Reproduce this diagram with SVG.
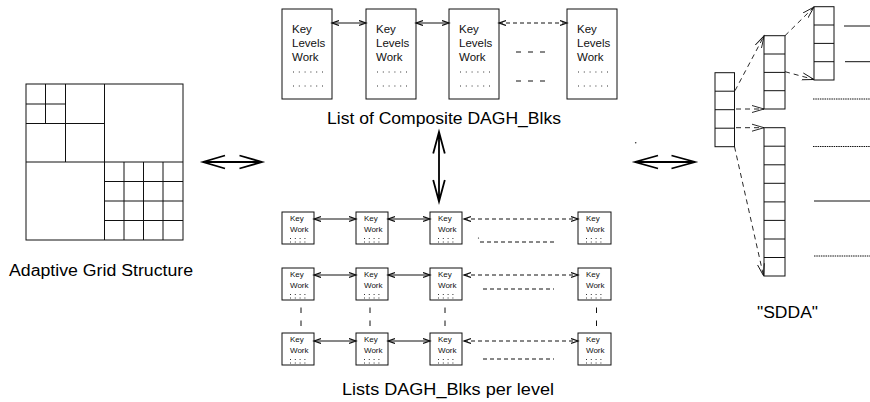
<svg xmlns="http://www.w3.org/2000/svg" width="870" height="402" viewBox="0 0 870 402">
  <style>
    .ln { stroke: #111; stroke-width: 1; fill: none; }
    .box { stroke: #111; stroke-width: 1; fill: #fff; }
    .dots { stroke: #333; stroke-width: 1; stroke-dasharray: 1 4.8; fill: none; }
    .sdots { stroke: #333; stroke-width: 1; stroke-dasharray: 1 3.8; fill: none; }
    .dash { stroke: #111; stroke-width: 1; stroke-dasharray: 4 3; fill: none; }
    .big { stroke: #000; stroke-width: 1.8; fill: none; }
    .lbl { font-family: "Liberation Sans", Arial, sans-serif; font-size: 16px; fill: #000; }
    .t1 { font-family: "Liberation Sans", Arial, sans-serif; font-size: 11.5px; fill: #111; }
    .t2 { font-family: "Liberation Sans", Arial, sans-serif; font-size: 8px; fill: #111; }
  </style>
  <defs>
    <marker id="ah" markerWidth="10" markerHeight="8" refX="7" refY="3" orient="auto-start-reverse" markerUnits="userSpaceOnUse">
      <path d="M0,0.5 L7,3 L0,5.5" fill="none" stroke="#111" stroke-width="1.2"/>
    </marker>
    <marker id="av" markerWidth="14" markerHeight="10" refX="12" refY="5" orient="auto" markerUnits="userSpaceOnUse">
      <path d="M0,1.5 L12,5 L0,8.5" fill="none" stroke="#111" stroke-width="0.9"/>
    </marker>
  </defs>

  <!-- adaptive grid -->
  <g id="grid">
    <rect class="ln" x="26" y="84" width="157" height="156"/>
    <path class="ln" d="M104.5,84 V240 M26,162 H183
      M65.5,84 V162 M26,123.5 H104.5
      M45.5,84 V123.5 M26,104 H65.5
      M124,162 V240 M143.5,162 V240 M163,162 V240
      M104.5,181.5 H183 M104.5,201 H183 M104.5,220.5 H183"/>
    <text class="lbl" x="9" y="276" textLength="184" lengthAdjust="spacingAndGlyphs">Adaptive Grid Structure</text>
  </g>

  <!-- composite block list -->
  <g id="blk1">
    <rect class="box" x="282" y="9" width="50" height="90"/>
    <text class="t1" x="292" y="33">Key</text>
    <text class="t1" x="292" y="47">Levels</text>
    <text class="t1" x="292" y="61">Work</text>
    <path class="dots" d="M293,72 H323 M293,86 H323"/>
  </g>
  <g id="blk2">
    <rect class="box" x="366" y="9" width="50" height="90"/>
    <text class="t1" x="376" y="33">Key</text>
    <text class="t1" x="376" y="47">Levels</text>
    <text class="t1" x="376" y="61">Work</text>
    <path class="dots" d="M377,72 H407 M377,86 H407"/>
  </g>
  <g id="blk3">
    <rect class="box" x="449" y="9" width="50" height="90"/>
    <text class="t1" x="459" y="33">Key</text>
    <text class="t1" x="459" y="47">Levels</text>
    <text class="t1" x="459" y="61">Work</text>
    <path class="dots" d="M460,72 H490 M460,86 H490"/>
  </g>
  <g id="blk4">
    <rect class="box" x="567" y="9" width="50" height="90"/>
    <text class="t1" x="577" y="33">Key</text>
    <text class="t1" x="577" y="47">Levels</text>
    <text class="t1" x="577" y="61">Work</text>
    <path class="dots" d="M578,72 H608 M578,86 H608"/>
  </g>
  <text class="lbl" x="327" y="124" textLength="234" lengthAdjust="spacingAndGlyphs">List of Composite DAGH_Blks</text>

  <!-- per-level block lists -->
  <g id="lvl1">
    <g id="l1b1"><rect class="box" x="282" y="212" width="32" height="32"/><text class="t2" x="290" y="221">Key</text><text class="t2" x="290" y="232">Work</text><path class="sdots" d="M290,238.5 H307 M290,242 H307"/></g>
    <g id="l1b2"><rect class="box" x="356" y="212" width="32" height="32"/><text class="t2" x="364" y="221">Key</text><text class="t2" x="364" y="232">Work</text><path class="sdots" d="M364,238.5 H381 M364,242 H381"/></g>
    <g id="l1b3"><rect class="box" x="430" y="212" width="32" height="32"/><text class="t2" x="438" y="221">Key</text><text class="t2" x="438" y="232">Work</text><path class="sdots" d="M438,238.5 H455 M438,242 H455"/></g>
    <g id="l1b4"><rect class="box" x="578" y="212" width="33" height="32"/><text class="t2" x="586" y="221">Key</text><text class="t2" x="586" y="232">Work</text><path class="sdots" d="M586,238.5 H603 M586,242 H603"/></g>
  </g>
  <g id="lvl2">
    <g id="l2b1"><rect class="box" x="282" y="268" width="32" height="32"/><text class="t2" x="290" y="277">Key</text><text class="t2" x="290" y="288">Work</text><path class="sdots" d="M290,294.5 H307 M290,298 H307"/></g>
    <g id="l2b2"><rect class="box" x="356" y="268" width="32" height="32"/><text class="t2" x="364" y="277">Key</text><text class="t2" x="364" y="288">Work</text><path class="sdots" d="M364,294.5 H381 M364,298 H381"/></g>
    <g id="l2b3"><rect class="box" x="430" y="268" width="32" height="32"/><text class="t2" x="438" y="277">Key</text><text class="t2" x="438" y="288">Work</text><path class="sdots" d="M438,294.5 H455 M438,298 H455"/></g>
    <g id="l2b4"><rect class="box" x="578" y="268" width="33" height="32"/><text class="t2" x="586" y="277">Key</text><text class="t2" x="586" y="288">Work</text><path class="sdots" d="M586,294.5 H603 M586,298 H603"/></g>
  </g>
  <g id="lvl3">
    <g id="l3b1"><rect class="box" x="282" y="333" width="32" height="32"/><text class="t2" x="290" y="342">Key</text><text class="t2" x="290" y="353">Work</text><path class="sdots" d="M290,359.5 H307 M290,363 H307"/></g>
    <g id="l3b2"><rect class="box" x="356" y="333" width="32" height="32"/><text class="t2" x="364" y="342">Key</text><text class="t2" x="364" y="353">Work</text><path class="sdots" d="M364,359.5 H381 M364,363 H381"/></g>
    <g id="l3b3"><rect class="box" x="430" y="333" width="32" height="32"/><text class="t2" x="438" y="342">Key</text><text class="t2" x="438" y="353">Work</text><path class="sdots" d="M438,359.5 H455 M438,363 H455"/></g>
    <g id="l3b4"><rect class="box" x="578" y="333" width="33" height="32"/><text class="t2" x="586" y="342">Key</text><text class="t2" x="586" y="353">Work</text><path class="sdots" d="M586,359.5 H603 M586,363 H603"/></g>
  </g>
  <text class="lbl" x="342" y="395" textLength="212" lengthAdjust="spacingAndGlyphs">Lists DAGH_Blks per level</text>

  <!-- SDDA columns -->
  <g id="colA">
    <rect class="ln" x="715" y="72.7" width="19.5" height="74"/>
    <path class="ln" d="M715,91.2 H734.5 M715,109.7 H734.5 M715,128.2 H734.5"/>
  </g>
  <g id="colB">
    <rect class="ln" x="764" y="35.7" width="21" height="73.3"/>
    <path class="ln" d="M764,54 H785 M764,72.4 H785 M764,90.7 H785"/>
  </g>
  <g id="colC">
    <rect class="ln" x="814" y="6.7" width="20" height="73.3"/>
    <path class="ln" d="M814,25 H834 M814,43.4 H834 M814,61.7 H834"/>
  </g>
  <g id="colD">
    <rect class="ln" x="764" y="127.7" width="21" height="148.3"/>
    <path class="ln" d="M764,146.2 H785 M764,164.8 H785 M764,183.3 H785 M764,201.9 H785 M764,220.4 H785 M764,239 H785 M764,257.5 H785"/>
  </g>
  <g id="tails">
    <path class="ln" d="M844,26 H870 M845,61.7 H870 M814,201 H870"/>
    <path class="ln" stroke-dasharray="1.5 0.8" d="M813,99 H870 M813,146.5 H870 M814,256 H870"/>
  </g>
  <text class="lbl" x="757" y="318" textLength="61" lengthAdjust="spacingAndGlyphs">"SDDA"</text>

  <!-- connectors -->
  <g id="connectors">
    <!-- composite list links -->
    <line class="ln" x1="332" y1="23" x2="366" y2="23" marker-start="url(#ah)" marker-end="url(#ah)"/>
    <line class="ln" x1="416" y1="23" x2="449" y2="23" marker-start="url(#ah)" marker-end="url(#ah)"/>
    <line class="dash" x1="499" y1="23" x2="567" y2="23" marker-start="url(#ah)" marker-end="url(#ah)"/>
    <path class="ln" stroke-dasharray="5 7" d="M516,52 H546 M516,81 H546"/>

    <!-- per-level links -->
    <line class="ln" x1="314" y1="219" x2="356" y2="219" marker-start="url(#ah)" marker-end="url(#ah)"/>
    <line class="ln" x1="388" y1="219" x2="430" y2="219" marker-start="url(#ah)" marker-end="url(#ah)"/>
    <line class="dash" x1="464" y1="219" x2="578" y2="219" marker-start="url(#ah)" marker-end="url(#ah)"/>
    <line class="ln" x1="314" y1="275" x2="356" y2="275" marker-start="url(#ah)" marker-end="url(#ah)"/>
    <line class="ln" x1="388" y1="275" x2="430" y2="275" marker-start="url(#ah)" marker-end="url(#ah)"/>
    <line class="dash" x1="464" y1="275" x2="578" y2="275" marker-start="url(#ah)" marker-end="url(#ah)"/>
    <line class="ln" x1="314" y1="341" x2="356" y2="341" marker-start="url(#ah)" marker-end="url(#ah)"/>
    <line class="ln" x1="388" y1="341" x2="430" y2="341" marker-start="url(#ah)" marker-end="url(#ah)"/>
    <line class="dash" x1="464" y1="341" x2="578" y2="341" marker-start="url(#ah)" marker-end="url(#ah)"/>
    <path class="dash" d="M480,242 H554 M483,289 H554 M483,359 H554"/>
    <circle cx="478.5" cy="238" r="0.6" fill="#111"/>
    <path class="ln" d="M301,307.5 V313 M301,320.5 V326 M370,307.5 V313 M370,320.5 V326 M445,307.5 V313 M445,320.5 V326 M596.5,307.5 V313 M596.5,320.5 V326"/>

    <!-- view links -->
    <path class="big" d="M203,162 H262 M225,155.5 L203,162 L225,168.5 M239.5,155.5 L262,162 L239.5,168.5"/>
    <path class="big" d="M635,162 H695 M658,155.5 L635,162 L658,168.5 M671.5,155.5 L695,162 L671.5,168.5"/>
    <path class="big" d="M439,132 V201.5 M433.2,153.5 L439,132 L444.8,153.5 M433.2,180 L439,201.5 L444.8,180"/>
    <circle cx="635.7" cy="142.7" r="0.8" fill="#333"/>

    <!-- SDDA pointers -->
    <g stroke="#111" stroke-width="0.9" fill="none" stroke-dasharray="5 4">
      <line x1="735" y1="90.7" x2="764" y2="36" marker-end="url(#av)"/>
      <line x1="785" y1="35.7" x2="814" y2="7" marker-end="url(#av)"/>
      <line x1="785" y1="71.7" x2="814" y2="79.5" marker-end="url(#av)"/>
      <line x1="736" y1="109" x2="764" y2="109" marker-end="url(#av)"/>
      <line x1="736" y1="127.7" x2="764" y2="127.7" marker-end="url(#av)"/>
      <line x1="734.5" y1="146.7" x2="763.5" y2="275.7" marker-end="url(#av)"/>
    </g>
  </g>
</svg>
